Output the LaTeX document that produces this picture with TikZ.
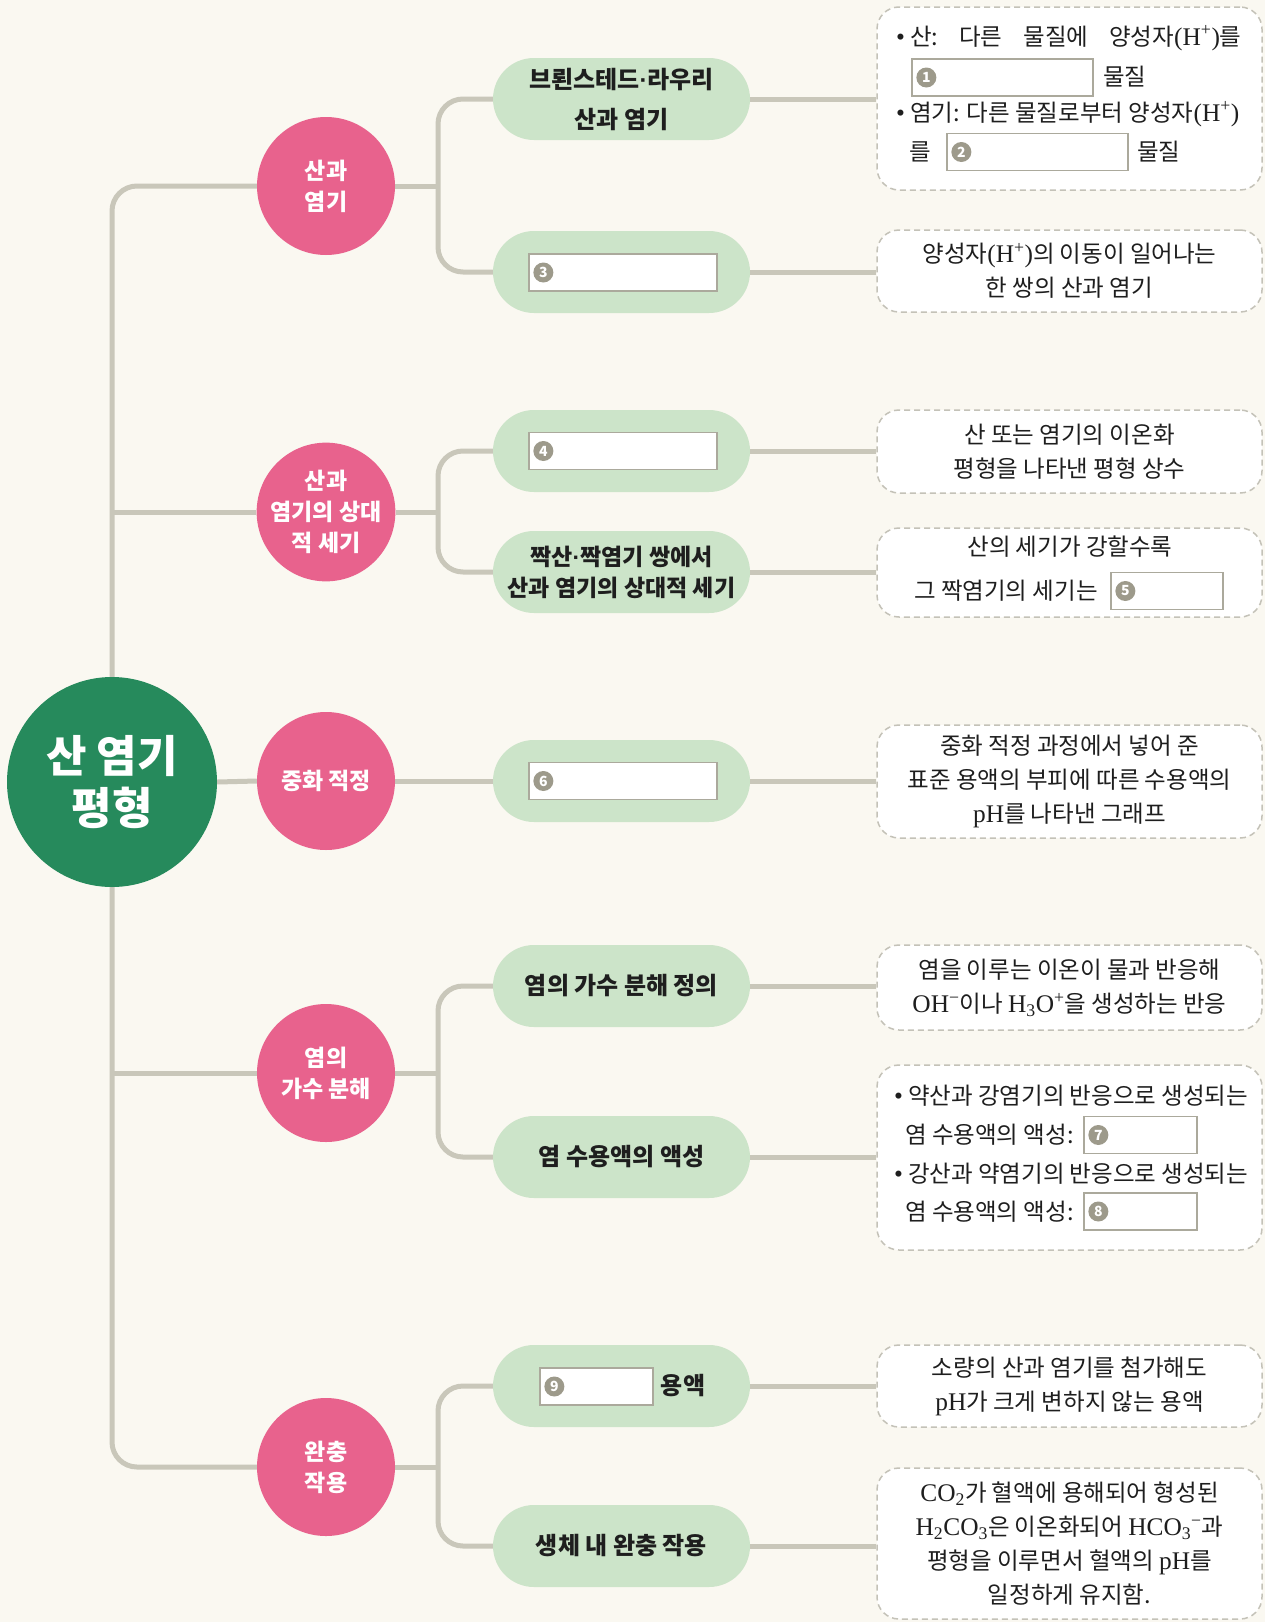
\documentclass[tikz,border=0pt]{standalone}
\usepackage{fontspec}
\setmainfont{Noto Sans CJK KR}
\newfontfamily\lat[Scale=1.08]{Liberation Serif}
\newfontfamily\lsans{Liberation Sans}
\usetikzlibrary{calc}
\pgfdeclarelayer{back}
\pgfdeclarelayer{lines}
\pgfsetlayers{back,lines,main}
\definecolor{bgC}{HTML}{FAF8F1}
\definecolor{lineC}{HTML}{C9C7BA}
\definecolor{rootC}{HTML}{268A5C}
\definecolor{pinkC}{HTML}{E8628D}
\definecolor{pillC}{HTML}{CCE4C9}
\definecolor{dashC}{HTML}{C4C2B8}
\definecolor{ansC}{HTML}{ABA99C}
\definecolor{markC}{HTML}{9D9A8B}
\definecolor{txtC}{HTML}{1E1E1E}
\newcommand{\Hp}{{\lat(H\textsuperscript{+})}}
\newcommand{\bul}{{\lat\textbullet}\hspace{5pt}}
\newcommand{\mdot}{{\lsans\bfseries\textperiodcentered}}
\begin{document}
\begin{tikzpicture}[x=1pt,y=-1pt,
  conn/.style={line width=5pt, draw=lineC, rounded corners=25pt},
  rootnode/.style={circle, fill=rootC, minimum size=210pt, inner sep=0pt, text=white, align=center, font=\fontsize{44}{52}\selectfont\bfseries},
  topic/.style={circle, fill=pinkC, minimum size=138pt, inner sep=0pt, text=white, align=center, font=\fontsize{23}{31}\selectfont\bfseries},
  pill/.style={rectangle, rounded corners=41pt, fill=pillC, minimum width=257pt, minimum height=82pt, inner sep=0pt, text=txtC, align=center, font=\fontsize{24}{31}\selectfont\bfseries},
  infobox/.style={rectangle, draw=dashC, dash pattern=on 6pt off 4pt, line width=1.5pt, rounded corners=22pt, fill=white, minimum width=385pt, inner sep=0pt, text=txtC, align=center, font=\fontsize{23.5}{34}\selectfont},
  boxtxt/.style={anchor=west, inner sep=0pt, text=txtC, font=\fontsize{23.5}{34}\selectfont},
  ctrtxt/.style={inner sep=0pt, text=txtC, font=\fontsize{23.5}{34}\selectfont},
  ans/.style={rectangle, draw=ansC, fill=white, line width=1.3pt, minimum height=37pt, inner sep=0pt},
  numdot/.style={circle, fill=markC, minimum size=20pt, inner sep=0pt, text=white, font=\fontsize{14}{14}\selectfont\bfseries}
]
\begin{pgfonlayer}{back}
\fill[bgC] (0,0) rectangle (1265,1622);
\end{pgfonlayer}
\useasboundingbox (0,0) rectangle (1265,1622);

% root and topics
\node[rootnode] (root) at (112,782) {산 염기\\평형};
\node[topic] (t1) at (326,186) {산과\\염기};
\node[topic] (t2) at (326,512) {산과\\염기의 상대\\적 세기};
\node[topic] (t3) at (326,781) {중화 적정};
\node[topic] (t4) at (326,1073) {염의\\가수 분해};
\node[topic] (t5) at (326,1467) {완충\\작용};

% pills
\node[pill, font=\fontsize{24}{40}\selectfont\bfseries] (p1) at (621.5,99) {브뢴스테드\mdot 라우리\\산과 염기};
\node[pill] (p2) at (621.5,272) {};
\node[pill] (p3) at (621.5,451) {};
\node[pill, font=\fontsize{23}{31}\selectfont\bfseries] (p4) at (621.5,572) {짝산\mdot 짝염기 쌍에서\\산과 염기의 상대적 세기};
\node[pill] (p5) at (621.5,781) {};
\node[pill] (p6) at (621.5,986) {염의 가수 분해 정의};
\node[pill] (p7) at (621.5,1157) {염 수용액의 액성};
\node[pill] (p8) at (621.5,1386) {};
\node[pill] (p9) at (621.5,1546) {생체 내 완충 작용};

% info boxes
\node[infobox, minimum height=183pt] (b1) at (1069.5,98.5) {};
\node[infobox, minimum height=82pt] (b2) at (1069.5,271) {양성자\Hp 의 이동이 일어나는\\한 쌍의 산과 염기};
\node[infobox, minimum height=83pt] (b3) at (1069.5,451.5) {산 또는 염기의 이온화\\평형을 나타낸 평형 상수};
\node[infobox, minimum height=89pt] (b4) at (1069.5,572.5) {};
\node[infobox, minimum height=113pt] (b5) at (1069.5,781.5) {중화 적정 과정에서 넣어 준\\표준 용액의 부피에 따른 수용액의\\{\lat pH}를 나타낸 그래프};
\node[infobox, minimum height=85pt] (b6) at (1069.5,987.5) {염을 이루는 이온이 물과 반응해\\{\lat OH\textsuperscript{−}}이나 {\lat H\textsubscript{3}O\textsuperscript{+}}을 생성하는 반응};
\node[infobox, minimum height=185pt] (b7) at (1069.5,1157.5) {};
\node[infobox, minimum height=82pt] (b8) at (1069.5,1386) {소량의 산과 염기를 첨가해도\\{\lat pH}가 크게 변하지 않는 용액};
\node[infobox, minimum height=151pt] (b9) at (1069.5,1543.5) {{\lat CO\textsubscript{2}}가 혈액에 용해되어 형성된\\{\lat H\textsubscript{2}CO\textsubscript{3}}은 이온화되어 {\lat HCO\textsubscript{3}\textsuperscript{−}}과\\평형을 이루면서 혈액의 {\lat pH}를\\일정하게 유지함.};

% box 1 texts
\node[boxtxt] (b1l1) at (896,38) {\bul 산:\hspace{21pt}다른\hspace{21pt}물질에\hspace{21pt}양성자\Hp 를};
\node[ans, minimum width=181pt] (a1) at (1002.5,77.5) {};
\node[boxtxt] (b1l2) at (1103,77) {물질};
\node[boxtxt] (b1l3) at (896,114) {\bul 염기: 다른 물질로부터 양성자\Hp};
\node[boxtxt] (b1l4) at (909,152) {를};
\node[ans, minimum width=181pt] (a2) at (1037.5,152) {};
\node[boxtxt] (b1l5) at (1137,152) {물질};

% box 4 texts
\node[ctrtxt] (b4l1) at (1070,547) {산의 세기가 강할수록};
\node[boxtxt] (b4l2) at (914,591) {그 짝염기의 세기는};
\node[ans, minimum width=112pt] (a5) at (1167,591) {};

% box 7 texts
\node[boxtxt] (b7l1) at (894,1096) {\bul 약산과 강염기의 반응으로 생성되는};
\node[boxtxt] (b7l2) at (905,1135) {염 수용액의 액성:};
\node[ans, minimum width=113pt] (a7) at (1140.5,1135) {};
\node[boxtxt] (b7l3) at (894,1174) {\bul 강산과 약염기의 반응으로 생성되는};
\node[boxtxt] (b7l4) at (905,1212) {염 수용액의 액성:};
\node[ans, minimum width=113pt] (a8) at (1140.5,1211.5) {};

% answer boxes in pills
\node[ans, minimum width=188pt] (a3) at (623,272.5) {};
\node[ans, minimum width=188pt] (a4) at (623,451) {};
\node[ans, minimum width=188pt] (a6) at (623,781) {};
\node[ans, minimum width=113pt] (a9) at (596.5,1386.5) {};
\node[inner sep=0pt, text=txtC, font=\fontsize{24}{31}\selectfont\bfseries] (p8t) at (683,1386) {용액};

% number markers
\foreach \i in {1,...,9} {
  \node[numdot] (n\i) at ($(a\i.west)+(15,0)$) {\i};
}

% connectors
\begin{pgfonlayer}{lines}
\draw[conn] (t1.west) -| (root |- t5.west) -- (t5.west);
\draw[conn] (root |- t2.west) -- (t2.west);
\draw[conn] (root |- t4.west) -- (t4.west);
\draw[conn] (root.east) -- (t3.west);
\coordinate (bx) at (438,0);
\draw[conn] (p1.west) -| (bx |- p2.west) -- (p2.west);
\draw[conn] (t1.east) -- (t1.east -| bx);
\draw[conn] (p3.west) -| (bx |- p4.west) -- (p4.west);
\draw[conn] (t2.east) -- (t2.east -| bx);
\draw[conn] (t3.east) -- (p5.west);
\draw[conn] (p6.west) -| (bx |- p7.west) -- (p7.west);
\draw[conn] (t4.east) -- (t4.east -| bx);
\draw[conn] (p8.west) -| (bx |- p9.west) -- (p9.west);
\draw[conn] (t5.east) -- (t5.east -| bx);
\foreach \i in {1,...,9} {
  \draw[conn] (p\i.east) -- (p\i.east -| b\i.west);
}
\end{pgfonlayer}
\end{tikzpicture}
\end{document}
